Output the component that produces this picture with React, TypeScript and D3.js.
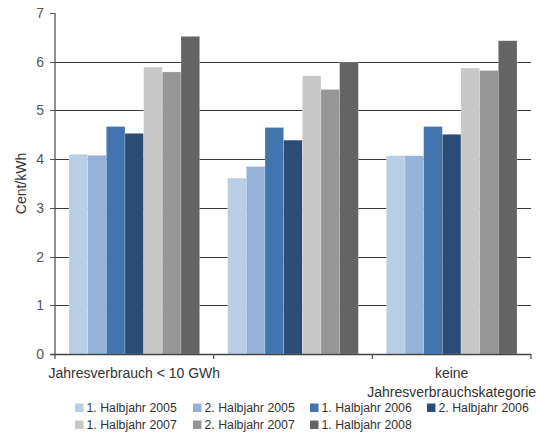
import React from "react";
import * as d3 from "d3";

const categories = ["Jahresverbrauch < 10 GWh", "", "keine Jahresverbrauchskategorie"];
const categoryLines = [["Jahresverbrauch < 10 GWh"], [], ["keine", "Jahresverbrauchskategorie"]];
const seriesNames = [
  "1. Halbjahr 2005",
  "2. Halbjahr 2005",
  "1. Halbjahr 2006",
  "2. Halbjahr 2006",
  "1. Halbjahr 2007",
  "2. Halbjahr 2007",
  "1. Halbjahr 2008",
];
const seriesColors = ["#B9CDE5", "#95B3D7", "#4275AE", "#2B4D75", "#C8C8C8", "#969696", "#646464"];
const values = [
  [4.1, 4.08, 4.67, 4.53, 5.89, 5.79, 6.52],
  [3.61, 3.85, 4.65, 4.39, 5.71, 5.43, 5.98],
  [4.07, 4.07, 4.67, 4.51, 5.87, 5.82, 6.43],
];
const yTicks = [0, 1, 2, 3, 4, 5, 6, 7];
const yTitle = "Cent/kWh";

export default function App() {
  const W = 537, H = 432;
  const left = 55, right = 531, top = 13, bottom = 354;
  const y = d3.scaleLinear().domain([0, 7]).range([bottom, top]);
  const x0 = d3.scaleBand<number>().domain(categories.map((_, i) => i)).range([left, right]).padding(0);
  const x1 = d3.scaleBand<number>().domain(seriesNames.map((_, i) => i)).range([0, x0.bandwidth()]).paddingInner(0).paddingOuter(0.75);
  const font = "Liberation Sans, Arial, sans-serif";
  const legendCols = [75, 193, 310, 427];
  const legendRows = [412, 429];

  return (
    <svg width={W} height={H} style={{ position: "absolute", left: 0, top: 0, background: "#fff" }} fontFamily={font}>
      {/* grid lines */}
      {yTicks.filter((t) => t > 0 && t < 7).map((t) => (
        <line key={"g" + t} x1={left} x2={right} y1={Math.round(y(t)) + 0.5} y2={Math.round(y(t)) + 0.5} stroke="#3a3a3a" strokeWidth={1} />
      ))}
      {/* bars */}
      {values.map((row, ci) => (
        <g key={"c" + ci} transform={`translate(${x0(ci)},0)`}>
          {row.map((v, si) => (
            <rect key={si} x={x1(si)} y={y(v)} width={x1.bandwidth()} height={bottom - y(v)} fill={seriesColors[si]} stroke="#ffffff" strokeOpacity={0.35} strokeWidth={0.6} />
          ))}
        </g>
      ))}
      {/* y axis */}
      <line x1={left} x2={left} y1={top} y2={bottom} stroke="#555" strokeWidth={1.3} />
      {yTicks.map((t) => (
        <g key={"t" + t}>
          <line x1={left - 5} x2={left} y1={Math.round(y(t)) + 0.5} y2={Math.round(y(t)) + 0.5} stroke="#555" strokeWidth={1} />
          <text x={44} y={y(t) + 5} textAnchor="end" fontSize={14} fill="#555">{t}</text>
        </g>
      ))}
      <text transform={`translate(26,${(top + bottom) / 2}) rotate(-90)`} textAnchor="middle" fontSize={14} fill="#333">{yTitle}</text>
      {/* x axis */}
      <line x1={left - 5} x2={right} y1={bottom + 0.5} y2={bottom + 0.5} stroke="#444" strokeWidth={1.6} />
      {[0, 1, 2, 3].map((i) => {
        const xx = left + i * x0.bandwidth();
        return <line key={"xt" + i} x1={xx} x2={xx} y1={bottom} y2={bottom + 5} stroke="#555" strokeWidth={1.3} />;
      })}
      {categoryLines.map((lines, ci) => (
        <text key={"cl" + ci} textAnchor="middle" fontSize={14} fill="#333">
          {lines.map((l, li) => (
            <tspan key={li} x={(x0(ci) as number) + x0.bandwidth() / 2} y={378 + li * 18.5}>{l}</tspan>
          ))}
        </text>
      ))}
      {/* legend */}
      {seriesNames.map((n, i) => {
        const col = i % 4, row = Math.floor(i / 4);
        const lx = legendCols[col], ly = legendRows[row];
        return (
          <g key={"l" + i}>
            <rect x={lx} y={ly - 8.5} width={8.5} height={8.5} fill={seriesColors[i]} />
            <text x={lx + 11.5} y={ly} fontSize={12.3} fill="#333">{n}</text>
          </g>
        );
      })}
    </svg>
  );
}
